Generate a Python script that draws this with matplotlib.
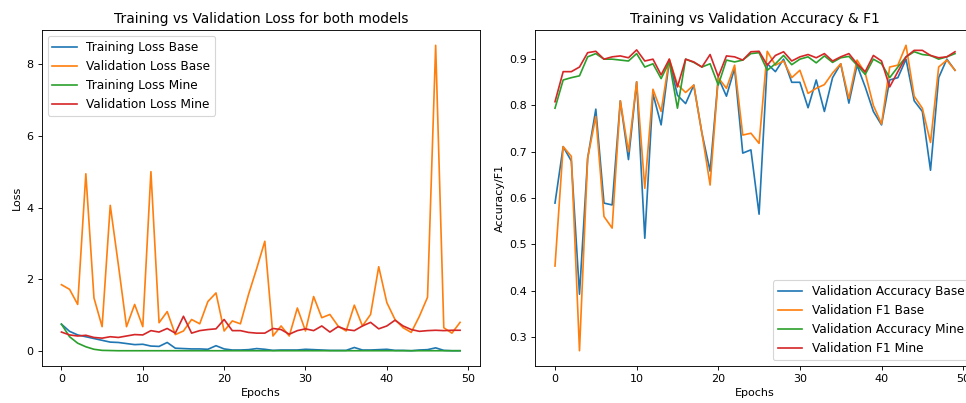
import matplotlib
matplotlib.use("Agg")
import matplotlib.pyplot as plt

epochs = list(range(50))

# left panel: losses
train_loss_base = [0.75, 0.55, 0.45, 0.40, 0.35, 0.30, 0.25, 0.24, 0.21, 0.18,
                   0.19, 0.14, 0.13, 0.24, 0.08, 0.07, 0.06, 0.06, 0.05, 0.15,
                   0.06, 0.03, 0.03, 0.04, 0.07, 0.05, 0.02, 0.03, 0.03, 0.03,
                   0.05, 0.04, 0.03, 0.02, 0.02, 0.02, 0.10, 0.03, 0.03, 0.04,
                   0.05, 0.02, 0.02, 0.01, 0.03, 0.04, 0.09, 0.02, 0.01, 0.01]
val_loss_base = [1.85, 1.72, 1.30, 4.94, 1.48, 0.68, 4.06, 2.40, 0.68, 1.30,
                 0.68, 5.00, 0.79, 1.10, 0.46, 0.56, 0.88, 0.76, 1.38, 1.62,
                 0.56, 0.84, 0.76, 1.58, 2.30, 3.06, 0.42, 0.70, 0.42, 1.20,
                 0.56, 1.52, 0.93, 1.02, 0.70, 0.56, 1.28, 0.70, 1.02, 2.35,
                 1.35, 0.88, 0.65, 0.52, 0.97, 1.50, 8.52, 0.65, 0.50, 0.80]
train_loss_mine = [0.75, 0.40, 0.22, 0.12, 0.05, 0.02, 0.015, 0.01, 0.01, 0.01,
                   0.01, 0.01, 0.01, 0.01, 0.01, 0.01, 0.01, 0.01, 0.01, 0.01,
                   0.01, 0.01, 0.01, 0.01, 0.01, 0.01, 0.01, 0.01, 0.01, 0.01,
                   0.01, 0.01, 0.01, 0.01, 0.01, 0.01, 0.01, 0.01, 0.01, 0.01,
                   0.01, 0.01, 0.01, 0.01, 0.01, 0.01, 0.01, 0.01, 0.01, 0.01]
val_loss_mine = [0.53, 0.45, 0.42, 0.44, 0.38, 0.36, 0.40, 0.38, 0.42, 0.46,
                 0.45, 0.57, 0.53, 0.63, 0.50, 0.97, 0.50, 0.57, 0.60, 0.62,
                 0.88, 0.57, 0.57, 0.52, 0.50, 0.50, 0.63, 0.60, 0.47, 0.57,
                 0.62, 0.57, 0.70, 0.53, 0.68, 0.60, 0.57, 0.70, 0.80, 0.62,
                 0.70, 0.86, 0.70, 0.60, 0.55, 0.57, 0.58, 0.57, 0.58, 0.58]

# right panel: accuracy and F1
val_acc_base = [0.589, 0.711, 0.680, 0.392, 0.686, 0.792, 0.589, 0.585, 0.810, 0.683,
                0.851, 0.513, 0.825, 0.758, 0.897, 0.822, 0.804, 0.844, 0.740, 0.658,
                0.860, 0.820, 0.880, 0.697, 0.704, 0.565, 0.890, 0.873, 0.900, 0.850,
                0.850, 0.795, 0.855, 0.787, 0.860, 0.890, 0.805, 0.887, 0.840, 0.787,
                0.758, 0.855, 0.860, 0.900, 0.810, 0.787, 0.660, 0.860, 0.900, 0.876]
val_f1_base = [0.453, 0.711, 0.690, 0.270, 0.686, 0.776, 0.560, 0.535, 0.810, 0.700,
               0.851, 0.621, 0.835, 0.787, 0.900, 0.845, 0.828, 0.844, 0.740, 0.628,
               0.860, 0.837, 0.887, 0.736, 0.740, 0.718, 0.917, 0.887, 0.896, 0.860,
               0.876, 0.826, 0.837, 0.845, 0.870, 0.890, 0.815, 0.898, 0.870, 0.800,
               0.760, 0.883, 0.887, 0.930, 0.820, 0.794, 0.720, 0.883, 0.898, 0.876]
val_acc_mine = [0.794, 0.855, 0.860, 0.864, 0.905, 0.912, 0.900, 0.900, 0.898, 0.896,
                0.912, 0.883, 0.890, 0.858, 0.894, 0.794, 0.900, 0.893, 0.883, 0.890,
                0.844, 0.898, 0.894, 0.898, 0.912, 0.914, 0.876, 0.890, 0.908, 0.888,
                0.900, 0.905, 0.892, 0.907, 0.893, 0.903, 0.906, 0.887, 0.867, 0.900,
                0.890, 0.860, 0.883, 0.905, 0.916, 0.910, 0.908, 0.900, 0.905, 0.912]
val_f1_mine = [0.808, 0.873, 0.873, 0.883, 0.914, 0.917, 0.900, 0.905, 0.907, 0.903,
               0.920, 0.896, 0.900, 0.866, 0.900, 0.840, 0.900, 0.894, 0.883, 0.910,
               0.862, 0.907, 0.905, 0.898, 0.916, 0.917, 0.887, 0.908, 0.916, 0.896,
               0.905, 0.910, 0.903, 0.912, 0.896, 0.905, 0.912, 0.890, 0.873, 0.908,
               0.896, 0.840, 0.873, 0.905, 0.919, 0.919, 0.908, 0.903, 0.905, 0.916]

W, H = 966, 403
fig = plt.figure(figsize=(W / 80.5, H / 80.5), dpi=80.5)

# axes placed in pixels; the right panel runs a little past the image edge
ax1 = fig.add_axes([41.5 / W, 37 / H, 438.5 / W, 336 / H])
ax2 = fig.add_axes([535 / W, 37 / H, 440 / W, 336 / H])

ax1.plot(epochs, train_loss_base, label='Training Loss Base')
ax1.plot(epochs, val_loss_base, label='Validation Loss Base')
ax1.plot(epochs, train_loss_mine, label='Training Loss Mine')
ax1.plot(epochs, val_loss_mine, label='Validation Loss Mine')
ax1.set_title('Training vs Validation Loss for both models', fontsize=12.3)
ax1.set_xlabel('Epochs')
ax1.set_ylabel('Loss')
ax1.legend(loc='upper left', fontsize=10.8)

ax2.plot(epochs, val_acc_base, label='Validation Accuracy Base')
ax2.plot(epochs, val_f1_base, label='Validation F1 Base')
ax2.plot(epochs, val_acc_mine, label='Validation Accuracy Mine')
ax2.plot(epochs, val_f1_mine, label='Validation F1 Mine')
ax2.set_title('Training vs Validation Accuracy & F1', fontsize=12.3)
ax2.set_xlabel('Epochs')
ax2.set_ylabel('Accuracy/F1')
ax2.legend(loc='lower right', fontsize=10.8)

fig.savefig('out.png', dpi=80.5)
